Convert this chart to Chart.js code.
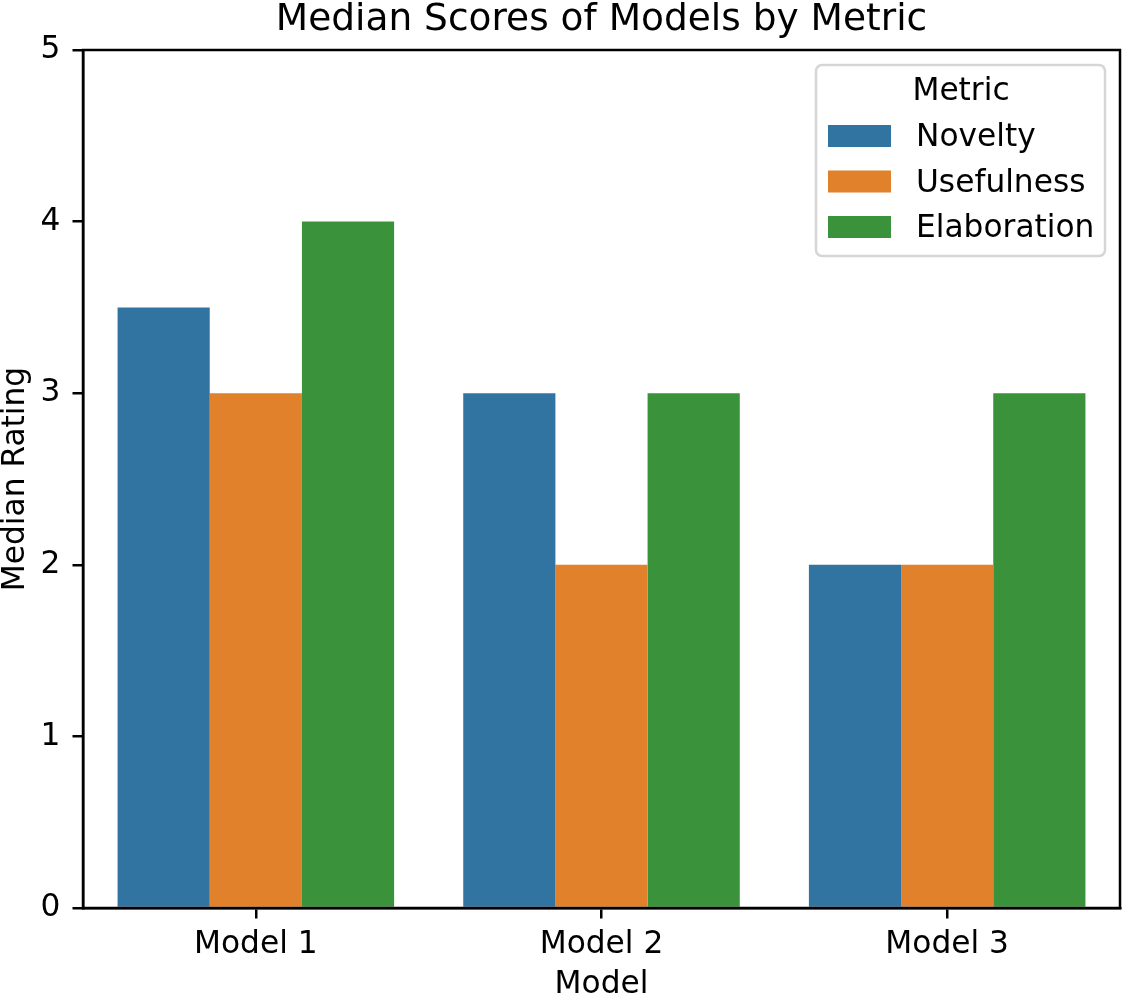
<!DOCTYPE html>
<html><head><meta charset="utf-8">
<script src="https://cdn.jsdelivr.net/npm/chart.js@4"></script>
<style>html,body{margin:0;padding:0;background:#fff;}#wrap{width:1125px;height:996px;}</style>
</head><body><div id="wrap"><canvas id="c" width="1125" height="996"></canvas></div>
<script>
const categories = ["Model 1", "Model 2", "Model 3"];
const seriesNames = ["Novelty", "Usefulness", "Elaboration"];
const novelty = [3.5, 3, 2];
const usefulness = [3, 2, 2];
const elaboration = [4, 3, 3];
const yTicks = [0, 1, 2, 3, 4, 5];
const colors = ["#3274a1", "#e1812c", "#3a923a"];
const FONT = "'DejaVu Sans', sans-serif";
const FS = 31.25;

const frame = {
  id: 'frame',
  afterDatasetsDraw(chart) {
    const a = chart.chartArea, ctx = chart.ctx;
    ctx.save();
    ctx.strokeStyle = '#000'; ctx.lineWidth = 2.5;
    ctx.strokeRect(a.left, a.top, a.right - a.left, a.bottom - a.top);
    // legend
    const bx = a.right - 304, by = a.top + 15, bw = 289, bh = 191;
    ctx.fillStyle = 'rgba(255,255,255,0.8)';
    ctx.strokeStyle = '#d6d6d6'; ctx.lineWidth = 2.5;
    ctx.beginPath();
    if (ctx.roundRect) ctx.roundRect(bx, by, bw, bh, 6); else ctx.rect(bx, by, bw, bh);
    ctx.fill(); ctx.stroke();
    ctx.fillStyle = '#000'; ctx.font = FS + 'px ' + FONT; ctx.textBaseline = 'middle';
    ctx.textAlign = 'center';
    ctx.fillText('Metric', bx + 145, by + 27);
    ctx.textAlign = 'left';
    chart.data.datasets.forEach((ds, i) => {
      const y = by + 71 + i * 45.5;
      ctx.fillStyle = ds.backgroundColor;
      ctx.fillRect(bx + 12, y - 11, 63, 22);
      ctx.fillStyle = '#000';
      ctx.fillText(ds.label, bx + 100, y + 2);
    });
    ctx.restore();
  }
};

new Chart(document.getElementById('c'), {
  type: 'bar',
  data: {
    labels: categories,
    datasets: [
      { label: seriesNames[0], data: novelty, backgroundColor: colors[0] },
      { label: seriesNames[1], data: usefulness, backgroundColor: colors[1] },
      { label: seriesNames[2], data: elaboration, backgroundColor: colors[2] }
    ]
  },
  options: {
    responsive: false, animation: false,
    layout: { padding: { left: 0, right: 5, top: 0, bottom: 0 } },
    datasets: { bar: { categoryPercentage: 0.8, barPercentage: 1.0, borderWidth: 0 } },
    plugins: {
      legend: { display: false },
      tooltip: { enabled: false },
      title: { display: true, fullSize: false, text: 'Median Scores of Models by Metric', color: '#000',
        font: { family: FONT, size: 37.5, weight: 'normal', lineHeight: 1 }, padding: { top: 2, bottom: 10.5 } }
    },
    scales: {
      x: {
        grid: { display: true, offset: false, drawOnChartArea: false, drawTicks: true, tickLength: 10.5, color: '#000', lineWidth: 2.5 },
        border: { display: true, color: '#000', width: 2.5 },
        ticks: { color: '#000', font: { family: FONT, size: FS }, padding: 8 },
        title: { display: true, text: 'Model', color: '#000', font: { family: FONT, size: FS, lineHeight: 0.7 }, padding: { top: 0, bottom: 0 } },
        afterFit(s) { s.height = 88; }
      },
      y: {
        min: 0, max: 5,
        afterBuildTicks(s) { s.ticks = yTicks.map(v => ({ value: v })); },
        grid: { display: true, drawOnChartArea: false, drawTicks: true, tickLength: 10.5, color: '#000', lineWidth: 2.5 },
        border: { display: true, color: '#000', width: 2.5 },
        ticks: { color: '#000', font: { family: FONT, size: FS }, padding: 12 },
        title: { display: true, text: 'Median Rating', color: '#000', font: { family: FONT, size: FS, lineHeight: 1.0 }, padding: { top: 0, bottom: 0 } },
        afterFit(s) { s.width = 83; }
      }
    }
  },
  plugins: [frame]
});
</script></body></html>
